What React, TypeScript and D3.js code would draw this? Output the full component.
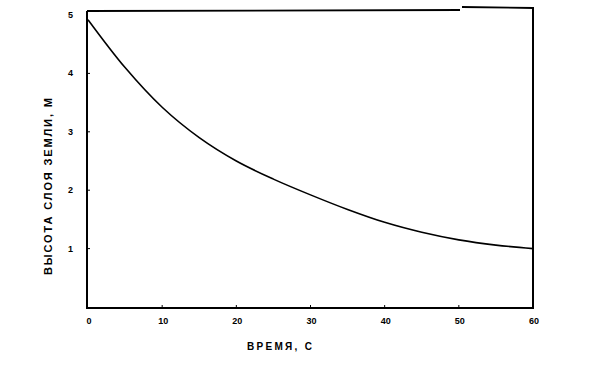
import { useEffect, useRef } from "react";
import * as d3 from "d3";

// time, s
const times = [0, 5, 10, 15, 20, 25, 30, 35, 40, 45, 50, 55, 60];
// soil layer height, m
const heights = [4.92, 4.1, 3.42, 2.9, 2.5, 2.19, 1.92, 1.67, 1.45, 1.28, 1.15, 1.06, 1.0];

const xTicks = [0, 10, 20, 30, 40, 50, 60];
const yTicks = [1, 2, 3, 4, 5];

const xTitle = "ВРЕМЯ, С";
const yTitle = "ВЫСОТА СЛОЯ ЗЕМЛИ, М";

const WIDTH = 610;
const HEIGHT = 371;
const FONT = "'Liberation Sans', Arial, Helvetica, sans-serif";

export default function App() {
  const svgRef = useRef<SVGSVGElement>(null);

  useEffect(() => {
    if (!svgRef.current) return;
    const svg = d3.select(svgRef.current);
    svg.selectAll("*").remove();

    const x = d3.scaleLinear().domain([0, 60]).range([88, 533]);
    const y = d3.scaleLinear().domain([0, 5]).range([307, 15]);

    const g = svg.append("g");

    // frame
    const left = 87;
    const right = 533;
    const top = 11;
    const bottom = y(0) + 1;
    g.append("path")
      .attr(
        "d",
        `M${left},${top}L${left},${bottom}L${right},${bottom}L${right},${top - 3}`
      )
      .attr("fill", "none")
      .attr("stroke", "#000")
      .attr("stroke-width", 2);
    // top edge, broken into two pieces like the scan
    g.append("line")
      .attr("x1", left)
      .attr("x2", 460)
      .attr("y1", top)
      .attr("y2", top - 1)
      .attr("stroke", "#000")
      .attr("stroke-width", 1.8);
    g.append("line")
      .attr("x1", 462)
      .attr("x2", right + 1)
      .attr("y1", top - 4)
      .attr("y2", top - 3)
      .attr("stroke", "#000")
      .attr("stroke-width", 1.8);

    // y ticks (inward)
    g.selectAll(".yt")
      .data(yTicks.filter((d) => d < 5))
      .join("line")
      .attr("x1", left)
      .attr("x2", left + 3)
      .attr("y1", (d) => y(d))
      .attr("y2", (d) => y(d))
      .attr("stroke", "#000")
      .attr("stroke-width", 1);

    g.selectAll(".yl")
      .data(yTicks)
      .join("text")
      .attr("x", 73)
      .attr("y", (d) => y(d) + 3)
      .attr("text-anchor", "end")
      .attr("font-family", FONT)
      .attr("font-weight", "bold")
      .attr("font-size", 9)
      .text((d) => d);

    // x ticks (inward)
    g.selectAll(".xt")
      .data(xTicks.filter((d) => d > 0 && d < 60))
      .join("line")
      .attr("x1", (d) => x(d))
      .attr("x2", (d) => x(d))
      .attr("y1", bottom)
      .attr("y2", bottom - 3)
      .attr("stroke", "#000")
      .attr("stroke-width", 1);

    g.selectAll(".xl")
      .data(xTicks)
      .join("text")
      .attr("x", (d) => x(d) + 1)
      .attr("y", 324)
      .attr("text-anchor", "middle")
      .attr("font-family", FONT)
      .attr("font-weight", "bold")
      .attr("font-size", 9)
      .text((d) => d);

    // curve
    const line = d3
      .line<number>()
      .x((_, i) => x(times[i]))
      .y((d) => y(d))
      .curve(d3.curveCatmullRom.alpha(0.5));

    g.append("path")
      .datum(heights)
      .attr("d", line)
      .attr("fill", "none")
      .attr("stroke", "#000")
      .attr("stroke-width", 1.6);

    // axis titles
    g.append("text")
      .attr("x", 247)
      .attr("y", 350)
      .attr("font-family", FONT)
      .attr("font-weight", "bold")
      .attr("font-size", 10)
      .attr("textLength", 65)
      .attr("lengthAdjust", "spacing")
      .text(xTitle);

    g.append("text")
      .attr("transform", "translate(52,275) rotate(-90)")
      .attr("x", 0)
      .attr("y", 0)
      .attr("font-family", FONT)
      .attr("font-weight", "bold")
      .attr("font-size", 11)
      .attr("textLength", 177)
      .attr("lengthAdjust", "spacing")
      .text(yTitle);
  }, []);

  return (
    <svg
      ref={svgRef}
      width={WIDTH}
      height={HEIGHT}
      style={{ position: "absolute", left: 0, top: 0, background: "#fff" }}
    />
  );
}
